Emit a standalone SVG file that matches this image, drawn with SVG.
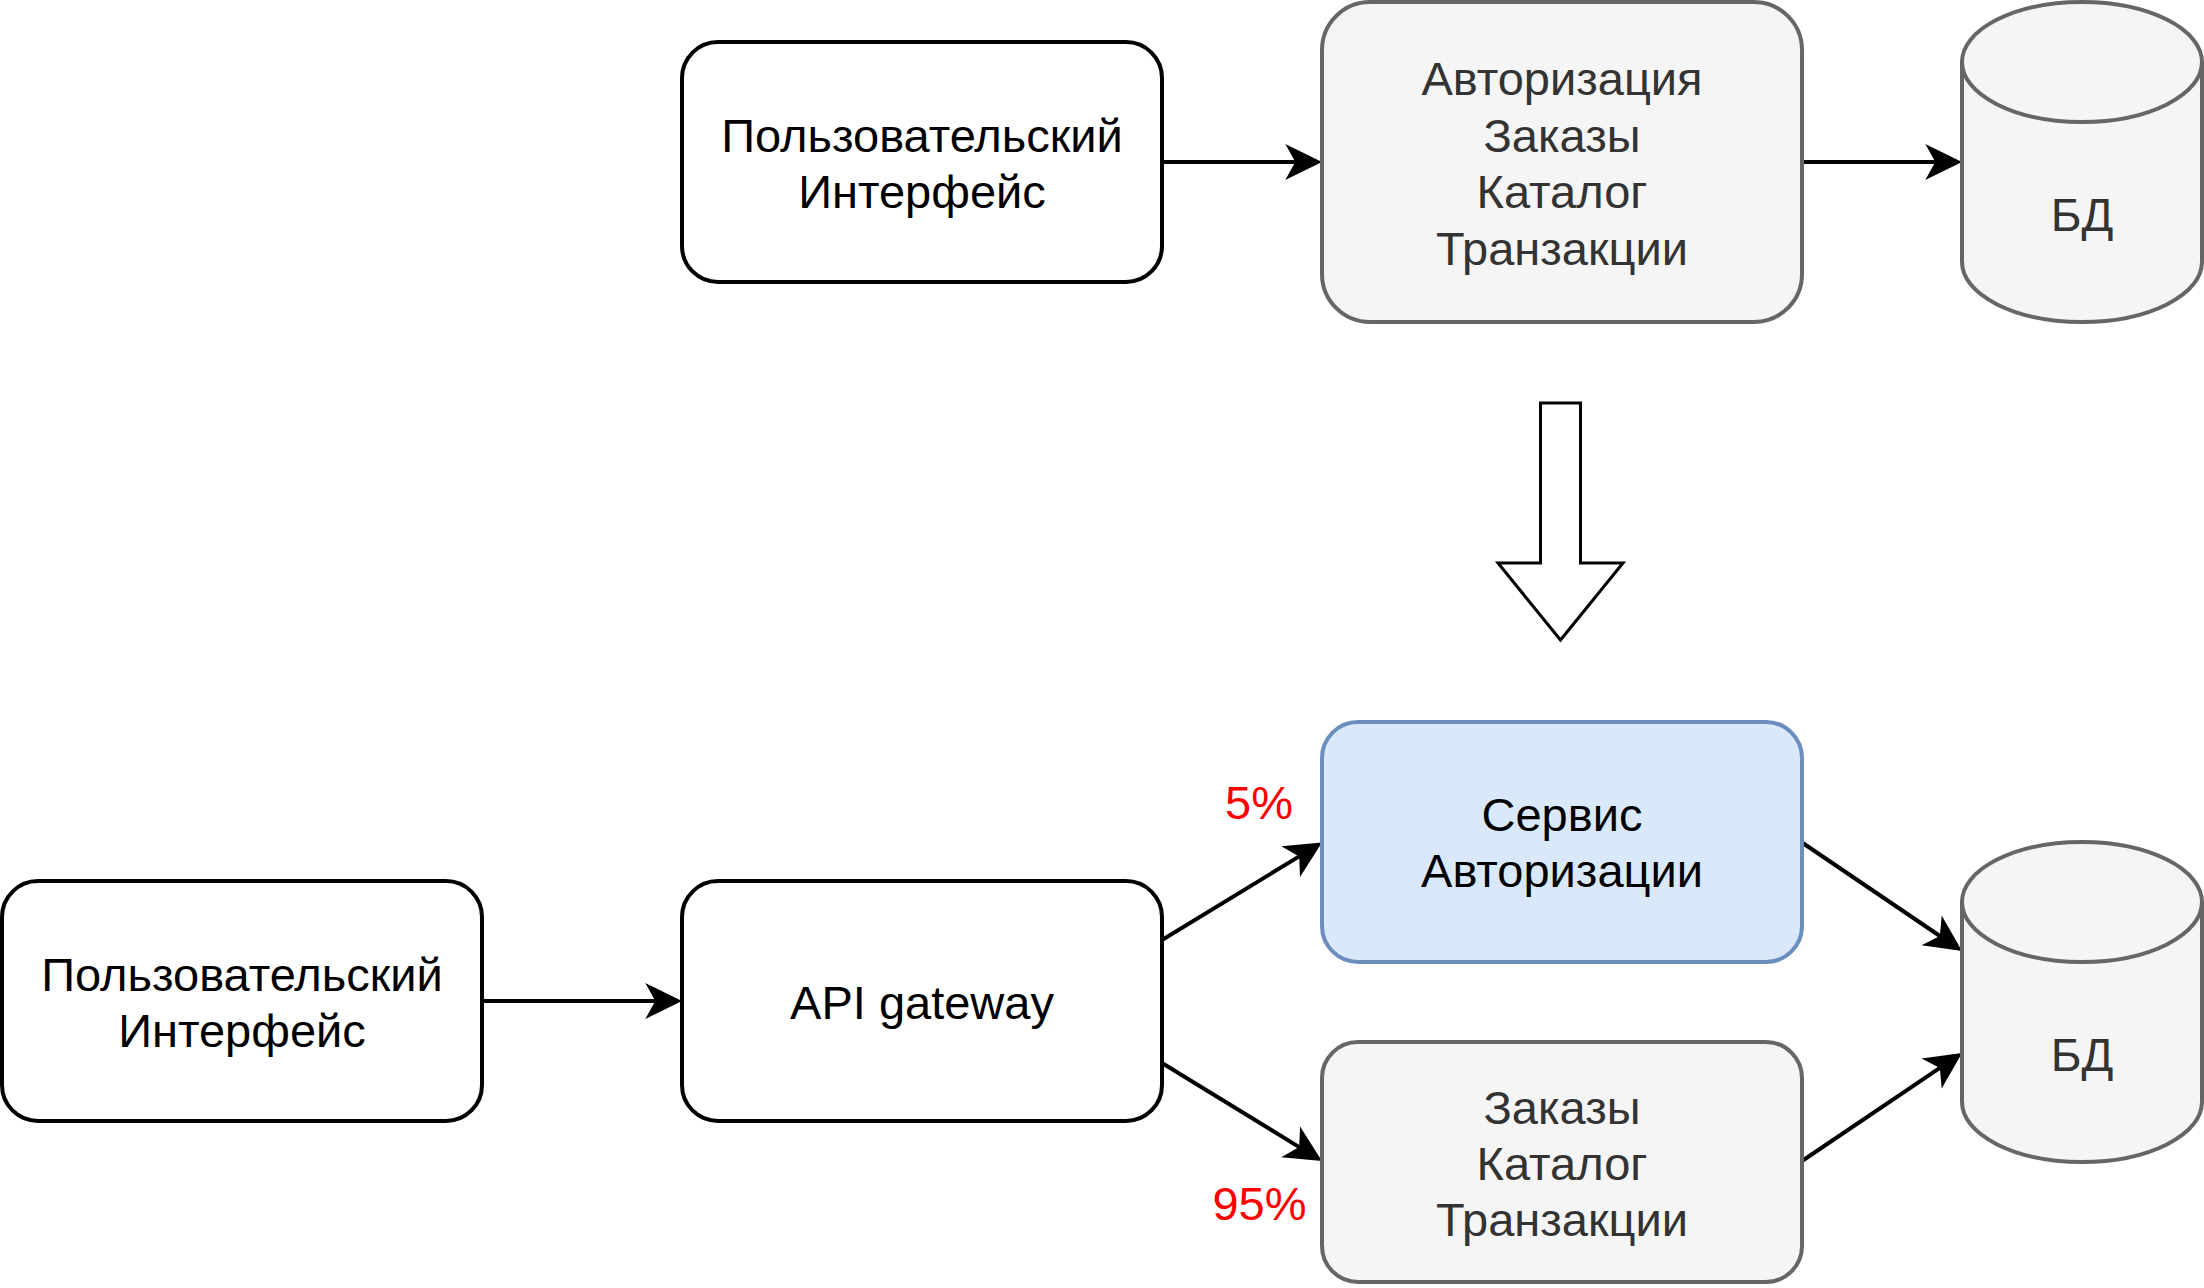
<svg xmlns="http://www.w3.org/2000/svg" width="2204" height="1288" viewBox="0 0 2204 1288">
<style>
  text { font-family: "Liberation Sans", Arial, sans-serif; font-size: 47px; text-anchor: middle; }
  .plain rect { fill: #ffffff; stroke: #000000; stroke-width: 4; }
  .gray rect, .gray path { fill: #f5f5f5; stroke: #666666; stroke-width: 4; }
  .blue rect { fill: #dae8fc; stroke: #6c8ebf; stroke-width: 4; }
  .dark { fill: #000000; }
  .gtext { fill: #333333; }
  .pct { fill: #ff0000; }
  .edge { stroke: #000000; stroke-width: 4; fill: none; marker-end: url(#arr); }
</style>
<defs>
  <marker id="arr" markerUnits="userSpaceOnUse" markerWidth="40" markerHeight="36" refX="10" refY="18" orient="auto" overflow="visible">
    <path d="M36.7,18 L0,0 L10,18 L0,36 Z" fill="#000000"/>
  </marker>
</defs>
<rect x="0" y="0" width="2204" height="1288" fill="#ffffff"/>

<g id="connectors">
  <line class="edge" x1="1162" y1="162" x2="1295.3" y2="162"/>
  <line class="edge" x1="1802" y1="162" x2="1935.3" y2="162"/>
  <line class="edge" x1="482" y1="1001" x2="655.3" y2="1001"/>
  <line class="edge" x1="1162" y1="940" x2="1299.2" y2="856.4"/>
  <line class="edge" x1="1162" y1="1063" x2="1299.2" y2="1147.1"/>
  <line class="edge" x1="1802" y1="842.5" x2="1939.9" y2="936"/>
  <line class="edge" x1="1802" y1="1161" x2="1939.9" y2="1067.9"/>
</g>

<g id="top-ui" class="plain">
  <rect x="682" y="42" width="480" height="240" rx="36" ry="36"/>
  <text class="dark" x="922" y="151.8">Пользовательский</text>
  <text class="dark" x="922" y="208.2">Интерфейс</text>
</g>

<g id="top-monolith" class="gray">
  <rect x="1322" y="2" width="480" height="320" rx="48" ry="48"/>
  <text class="gtext" x="1562" y="95.4">Авторизация</text>
  <text class="gtext" x="1562" y="151.8">Заказы</text>
  <text class="gtext" x="1562" y="208.2">Каталог</text>
  <text class="gtext" x="1562" y="264.6">Транзакции</text>
</g>

<g id="top-db" class="gray">
  <path d="M1962,62 A120,60 0 0 1 2202,62 L2202,262 A120,60 0 0 1 1962,262 Z"/>
  <path d="M1962,62 A120,60 0 0 0 2202,62" fill="none"/>
  <text class="gtext" x="2082" y="231">БД</text>
</g>

<g id="transition-arrow">
  <polygon points="1540.5,403 1580.5,403 1580.5,563 1623,563 1560.5,640 1498,563 1540.5,563" fill="#ffffff" stroke="#000000" stroke-width="3"/>
</g>

<g id="bottom-ui" class="plain">
  <rect x="2" y="881" width="480" height="240" rx="36" ry="36"/>
  <text class="dark" x="242" y="990.8">Пользовательский</text>
  <text class="dark" x="242" y="1047.2">Интерфейс</text>
</g>

<g id="api-gateway" class="plain">
  <rect x="682" y="881" width="480" height="240" rx="36" ry="36"/>
  <text class="dark" x="922" y="1019">API gateway</text>
</g>

<g id="auth-service" class="blue">
  <rect x="1322" y="722" width="480" height="240" rx="36" ry="36"/>
  <text class="dark" x="1562" y="830.8">Сервис</text>
  <text class="dark" x="1562" y="887.2">Авторизации</text>
</g>

<g id="rest-service" class="gray">
  <rect x="1322" y="1042" width="480" height="240" rx="36" ry="36"/>
  <text class="gtext" x="1562" y="1123.6">Заказы</text>
  <text class="gtext" x="1562" y="1180">Каталог</text>
  <text class="gtext" x="1562" y="1236.4">Транзакции</text>
</g>

<g id="bottom-db" class="gray">
  <path d="M1962,902 A120,60 0 0 1 2202,902 L2202,1102 A120,60 0 0 1 1962,1102 Z"/>
  <path d="M1962,902 A120,60 0 0 0 2202,902" fill="none"/>
  <text class="gtext" x="2082" y="1071">БД</text>
</g>

<g id="labels">
  <text class="pct" x="1259" y="819">5%</text>
  <text class="pct" x="1259.5" y="1220">95%</text>
</g>
</svg>
